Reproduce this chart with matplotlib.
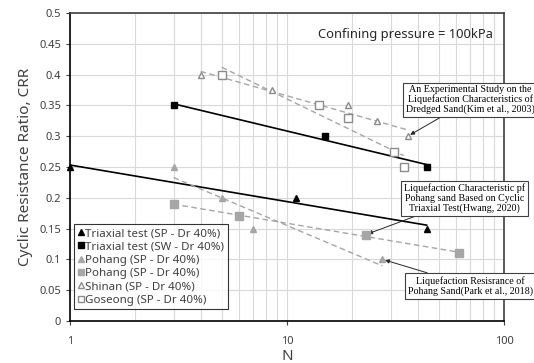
import matplotlib
matplotlib.use('Agg')
import matplotlib.pyplot as plt
import numpy as np
from matplotlib.ticker import FormatStrFormatter, LogLocator, NullFormatter

plt.rcParams['font.family'] = ['Noto Sans', 'DejaVu Sans']

# data
tri_sp_n = [1, 11, 44]
tri_sp_crr = [0.25, 0.20, 0.15]
tri_sw_n = [3, 15, 44]
tri_sw_crr = [0.35, 0.30, 0.25]
poh_tri_n = [3, 5, 7, 27.5]
poh_tri_crr = [0.25, 0.20, 0.15, 0.10]
poh_sq_n = [3, 6, 23, 62]
poh_sq_crr = [0.19, 0.17, 0.14, 0.11]
shinan_n = [4, 8.5, 19, 26, 36]
shinan_crr = [0.40, 0.375, 0.35, 0.325, 0.30]
goseong_n = [5, 14, 19, 31, 34.5]
goseong_crr = [0.40, 0.35, 0.33, 0.275, 0.25]

grey = '#a6a6a6'

fig = plt.figure(figsize=(5.34, 3.63), dpi=100)
ax = fig.add_axes([0.131, 0.116, 0.813, 0.848])


def trend(n, crr, **kw):
    # log trendline like excel
    a, b = np.polyfit(np.log(n), crr, 1)
    xs = np.array([min(n), max(n)])
    ax.plot(xs, a * np.log(xs) + b, **kw)


dash = (0, (4, 2.5))
trend(tri_sp_n, tri_sp_crr, color='k', lw=1.2, zorder=2)
trend(tri_sw_n, tri_sw_crr, color='k', lw=1.2, zorder=2)
trend(poh_tri_n, poh_tri_crr, color=grey, lw=1, ls=dash, zorder=2)
trend(poh_sq_n, poh_sq_crr, color=grey, lw=1, ls=dash, zorder=2)
trend(shinan_n, shinan_crr, color=grey, lw=1, ls=dash, zorder=2)
trend(goseong_n, goseong_crr, color=grey, lw=1, ls=dash, zorder=2)

ax.plot(tri_sp_n, tri_sp_crr, '^', color='k', ms=5, ls='none', label='Triaxial test (SP - Dr 40%)', zorder=4, clip_on=False)
ax.plot(tri_sw_n, tri_sw_crr, 's', color='k', ms=5, ls='none', label='Triaxial test (SW - Dr 40%)', zorder=4)
ax.plot(poh_tri_n, poh_tri_crr, '^', color=grey, ms=5, ls='none', label='Pohang (SP - Dr 40%)', zorder=4)
ax.plot(poh_sq_n, poh_sq_crr, 's', color=grey, ms=5.5, ls='none', label='Pohang (SP - Dr 40%)', zorder=4)
ax.plot(shinan_n, shinan_crr, '^', mfc='white', mec='#8c8c8c', ms=5, ls='none', label='Shinan (SP - Dr 40%)', zorder=4)
ax.plot(goseong_n, goseong_crr, 's', mfc='white', mec='#8c8c8c', ms=5.5, ls='none', label='Goseong (SP - Dr 40%)', zorder=4)

ax.set_xscale('log')
ax.set_xlim(1, 100)
ax.set_ylim(0, 0.5)
ax.set_yticks(np.arange(0, 0.51, 0.05))
ax.yaxis.set_major_formatter(FormatStrFormatter('%g'))
ax.xaxis.set_major_formatter(FormatStrFormatter('%g'))
ax.xaxis.set_minor_locator(LogLocator(base=10, subs=np.arange(2, 10)))
ax.xaxis.set_minor_formatter(NullFormatter())
ax.grid(True, which='both', color='#d9d9d9', lw=0.8)
ax.set_axisbelow(True)
ax.tick_params(labelsize=8, colors='#404040', length=3)
ax.tick_params(axis='x', which='minor', length=0)
ax.tick_params(axis='x', pad=8)
for s in ['left', 'bottom']:
    ax.spines[s].set_color('k')
    ax.spines[s].set_linewidth(1.2)
for s in ['right', 'top']:
    ax.spines[s].set_color('#404040')
    ax.spines[s].set_linewidth(1.2)

ax.set_xlabel('N', fontsize=11, color='#404040', labelpad=1)
ax.set_ylabel('Cyclic Resistance Ratio, CRR', fontsize=11, color='#404040')

ax.text(0.975, 0.93, 'Confining pressure = 100kPa', transform=ax.transAxes,
        ha='right', va='center', fontsize=9.3, color='#262626')

leg = ax.legend(loc='lower left', bbox_to_anchor=(0.005, 0.03), fontsize=8.3,
                handlelength=0.5, handletextpad=0.15, labelspacing=0.2,
                borderpad=0.3, frameon=True, fancybox=False, markerscale=0.8,
                borderaxespad=0.2)
leg.get_frame().set_edgecolor('k')
leg.get_frame().set_linewidth(0.8)
for t in leg.get_texts():
    t.set_color('#404040')

box = dict(boxstyle='square,pad=0.3', fc='white', ec='#404040', lw=0.8)
arr = dict(arrowstyle='-|>', color='#262626', lw=0.7, mutation_scale=6, shrinkA=0, shrinkB=2)
ser = ['Liberation Serif', 'DejaVu Serif']
ax.annotate('An Experimental Study on the\nLiquefaction Characteristics of\nDredged Sand(Kim et al., 2003)',
            xy=(shinan_n[-1], shinan_crr[-1]), xytext=(0.923, 0.718), textcoords='axes fraction',
            ha='center', va='center', fontsize=7.2, family=ser, bbox=box, arrowprops=arr,
            annotation_clip=False, linespacing=1.05)
ax.annotate('Liquefaction Characteristic pf\nPohang sand Based on Cyclic\nTriaxial Test(Hwang, 2020)',
            xy=(poh_sq_n[2], poh_sq_crr[2]), xytext=(0.908, 0.399), textcoords='axes fraction',
            ha='center', va='center', fontsize=7.2, family=ser, bbox=box, arrowprops=arr,
            annotation_clip=False, linespacing=1.05)
ax.annotate('Liquefaction Resisrance of\nPohang Sand(Park et al., 2018)',
            xy=(poh_tri_n[-1], poh_tri_crr[-1]), xytext=(0.922, 0.114), textcoords='axes fraction',
            ha='center', va='center', fontsize=7.2, family=ser, bbox=box, arrowprops=arr,
            annotation_clip=False, linespacing=1.05)

fig.savefig('out.png', dpi=100)
